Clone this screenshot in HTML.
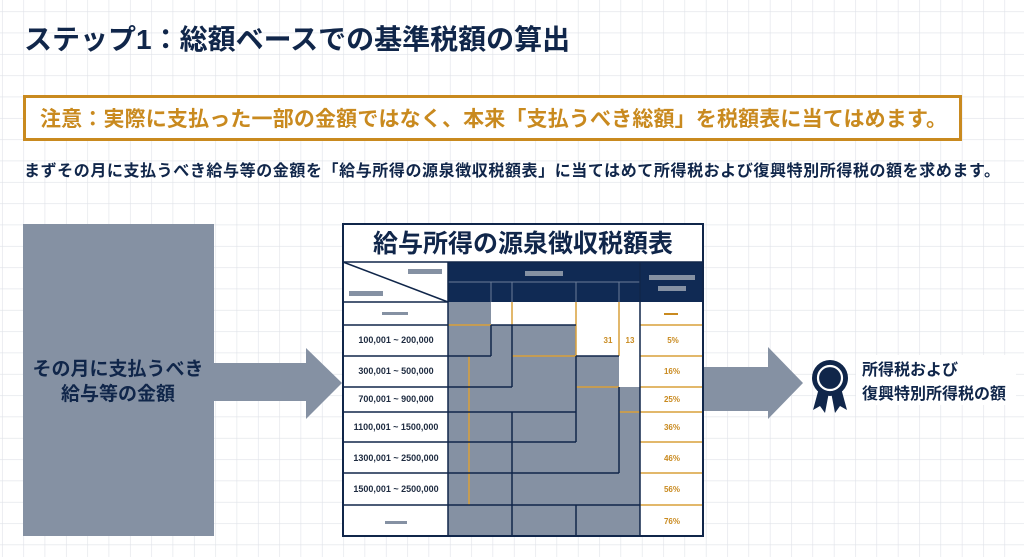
<!DOCTYPE html>
<html><head><meta charset="utf-8"><style>
html,body{margin:0;padding:0;width:1024px;height:557px;overflow:hidden;background:#fff}
svg{display:block}
text{font-family:"Liberation Sans","Noto Sans CJK JP",sans-serif}
</style></head><body>
<svg width="1024" height="557" viewBox="0 0 1024 557" xmlns="http://www.w3.org/2000/svg">
<defs>
<pattern id="g" x="23.3" y="11.3" width="21.33" height="21.33" patternUnits="userSpaceOnUse">
<path d="M0 0H21.33M0 0V21.33" stroke="#dfe2e8" stroke-width="1.2" fill="none"/>
</pattern>
</defs>
<rect width="1024" height="557" fill="url(#g)"/>

<text x="24" y="49" font-size="28" font-weight="bold" fill="#10264a">ステップ1：総額ベースでの基準税額の算出</text>

<rect x="24.5" y="96.5" width="936" height="43" fill="#fff" stroke="#c98a1f" stroke-width="3"/>
<text x="40" y="126" font-size="21" font-weight="bold" fill="#c98a1f" textLength="907">注意：実際に支払った一部の金額ではなく、本来「支払うべき総額」を税額表に当てはめます。</text>

<text x="24" y="176" font-size="16" font-weight="bold" fill="#10264a" textLength="976">まずその月に支払うべき給与等の金額を「給与所得の源泉徴収税額表」に当てはめて所得税および復興特別所得税の額を求めます。</text>

<!-- left box -->
<rect x="23" y="224" width="191" height="312" fill="#8591a3"/>
<text x="118" y="375" font-size="19" font-weight="bold" fill="#10264a" text-anchor="middle">その月に支払うべき</text>
<text x="118" y="400" font-size="19" font-weight="bold" fill="#10264a" text-anchor="middle">給与等の金額</text>
<polygon points="213,363 306,363 306,348 342,383 306,419 306,401 213,401" fill="#8591a3"/>

<!-- right arrow -->
<polygon points="703,367 768,367 768,347 803,383 768,419 768,411 703,411" fill="#8591a3"/>
<!-- medal -->
<polygon points="819,388 813,410 820,406 825,413 829,392" fill="#10264a"/>
<polygon points="841,388 847,410 840,406 835,413 831,392" fill="#10264a"/>
<circle cx="830" cy="378" r="18" fill="#10264a"/>
<circle cx="830" cy="378" r="12" fill="none" stroke="#fff" stroke-width="2.2"/>
<rect x="856" y="355" width="160" height="50" fill="#fff"/>
<text x="862" y="375" font-size="16" font-weight="bold" fill="#10264a">所得税および</text>
<text x="862" y="399" font-size="16" font-weight="bold" fill="#10264a">復興特別所得税の額</text>

<!-- table -->
<rect x="343" y="224" width="360" height="312" fill="#fff"/>
<text x="523" y="252" font-size="25" font-weight="bold" fill="#10264a" text-anchor="middle">給与所得の源泉徴収税額表</text>
<rect x="448" y="262" width="255" height="40" fill="#102a54"/>
<line x1="448" y1="282" x2="640" y2="282" stroke="#6c7c98" stroke-width="1"/>
<g stroke="#6c7c98" stroke-width="1">
<line x1="491" y1="282" x2="491" y2="302"/><line x1="512" y1="282" x2="512" y2="302"/>
<line x1="576" y1="282" x2="576" y2="302"/><line x1="619" y1="282" x2="619" y2="302"/>
<line x1="640" y1="262" x2="640" y2="302"/>
</g>
<rect x="525" y="271" width="38" height="5" fill="#8591a3"/>
<rect x="649" y="275" width="46" height="5" fill="#8591a3"/>
<rect x="658" y="286" width="28" height="5" fill="#8591a3"/>
<line x1="343" y1="262" x2="448" y2="302" stroke="#10264a" stroke-width="1.5"/>
<rect x="408" y="269" width="34" height="5" fill="#8591a3"/>
<rect x="349" y="291" width="34" height="5" fill="#8591a3"/>

<polygon points="448,302 491,302 491,325 576,325 576,356 619,356 619,387 640,387 640,536 448,536" fill="#8591a3"/>

<!-- orange lines -->
<g stroke="#d9a03a" stroke-width="1.5">
<line x1="448" y1="325" x2="491" y2="325"/>
<line x1="469" y1="356" x2="469" y2="505"/>
<line x1="512" y1="356" x2="576" y2="356"/>
<line x1="576" y1="387" x2="619" y2="387"/>
<line x1="619" y1="412" x2="640" y2="412"/>
<line x1="512" y1="302" x2="512" y2="325"/>
<line x1="576" y1="302" x2="576" y2="356"/>
<line x1="619" y1="302" x2="619" y2="356"/>
<line x1="640" y1="325" x2="703" y2="325"/>
<line x1="640" y1="356" x2="703" y2="356"/>
<line x1="640" y1="387" x2="703" y2="387"/>
<line x1="640" y1="412" x2="703" y2="412"/>
<line x1="640" y1="442" x2="703" y2="442"/>
<line x1="640" y1="473" x2="703" y2="473"/>
<line x1="640" y1="505" x2="703" y2="505"/>
</g>
<!-- dark lines -->
<g stroke="#10264a" stroke-width="1.5" fill="none">
<rect x="343" y="224" width="360" height="312" stroke-width="2"/>
<line x1="343" y1="262" x2="703" y2="262"/>
<line x1="343" y1="302" x2="448" y2="302"/>
<line x1="448" y1="262" x2="448" y2="536"/>
<line x1="640" y1="262" x2="640" y2="536"/>
<line x1="343" y1="325" x2="448" y2="325"/>
<line x1="343" y1="356" x2="491" y2="356"/>
<line x1="343" y1="387" x2="512" y2="387"/>
<line x1="343" y1="412" x2="576" y2="412"/>
<line x1="343" y1="442" x2="576" y2="442"/>
<line x1="343" y1="473" x2="619" y2="473"/>
<line x1="343" y1="505" x2="640" y2="505"/>
<line x1="491" y1="325" x2="491" y2="356"/>
<line x1="491" y1="325" x2="576" y2="325"/>
<line x1="512" y1="325" x2="512" y2="387"/>
<line x1="576" y1="356" x2="576" y2="442"/>
<line x1="619" y1="387" x2="619" y2="473"/>
<line x1="512" y1="412" x2="512" y2="536"/>
<line x1="576" y1="505" x2="576" y2="536"/>
<line x1="576" y1="356" x2="619" y2="356"/>
</g>
<!-- labels -->
<g font-size="9" font-weight="bold" fill="#1e2b40" text-anchor="middle">
<rect x="382" y="312" width="26" height="3" fill="#8591a3"/>
<text x="396" y="343">100,001 ~ 200,000</text>
<text x="396" y="374">300,001 ~ 500,000</text>
<text x="396" y="402">700,001 ~ 900,000</text>
<text x="396" y="430">1100,001 ~ 1500,000</text>
<text x="396" y="461">1300,001 ~ 2500,000</text>
<text x="396" y="492">1500,001 ~ 2500,000</text>
<rect x="385" y="521" width="22" height="3" fill="#8591a3"/>
</g>
<g font-size="8" font-weight="bold" fill="#c98a1f" text-anchor="middle">
<rect x="664" y="313" width="14" height="2" fill="#c98a1f"/>
<text x="608" y="343">31</text>
<text x="630" y="343">13</text>
<text x="673" y="343">5%</text>
<text x="672" y="374">16%</text>
<text x="672" y="402">25%</text>
<text x="672" y="430">36%</text>
<text x="672" y="461">46%</text>
<text x="672" y="492">56%</text>
<text x="672" y="524">76%</text>
</g>
</svg>
</body></html>
